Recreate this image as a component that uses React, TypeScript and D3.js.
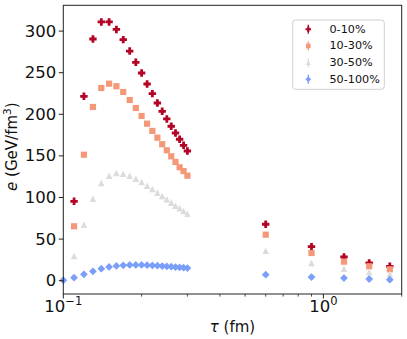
import { useEffect, useRef } from 'react';
import * as d3 from 'd3';

// proper time (fm) sampled by the hydro run, early grid + late grid
const tau = [0.10, 0.11, 0.12, 0.13, 0.14, 0.15, 0.16, 0.17, 0.18, 0.19, 0.20,
  0.21, 0.22, 0.23, 0.24, 0.25, 0.26, 0.27, 0.28, 0.29, 0.30,
  0.6, 0.9, 1.2, 1.5, 1.8];

const central = [null, 95.4, 221.6, 290.5, 311, 311, 302, 289.7, 276, 262.5, 249.6,
  236.4, 224.8, 213.6, 203.6, 194.4, 185.6, 177.5, 170, 162.7, 155.9,
  67.8, 40.9, 28.5, 21.3, 17.3];
const midCentral = [null, 65.4, 151.4, 208.8, 231.6, 236.8, 233.7, 226.8, 217.2, 207.6, 198,
  188.7, 180, 171.9, 164, 156.7, 149.5, 142.7, 136.3, 131.8, 126.2,
  55.3, 33.3, 22.8, 17.3, 13.7];
const midPeripheral = [null, 29.7, 67.3, 98.6, 117.4, 126.2, 129.4, 128.6, 126.2, 122.6, 118.6,
  114.2, 110.2, 105.8, 101.8, 97.8, 93.8, 90.1, 87, 83.8, 80.5,
  36, 21.3, 14.4, 10.5, 8];
const peripheral = [0.5, 3.6, 7.7, 11.3, 14.4, 16.5, 17.7, 18.5, 18.9, 18.9, 18.9,
  18.7, 18.4, 18, 17.6, 17.2, 16.8, 16.4, 16, 15.6, 15.2,
  7.2, 4.4, 3.2, 2, 1.2];

const labels = ['0-10%', '10-30%', '30-50%', '50-100%'];
const yTicks = [0, 50, 100, 150, 200, 250, 300];
const xMajor = [0.1, 1];
const xMinor = [0.2, 0.3, 0.4, 0.5, 0.6, 0.7, 0.8, 0.9, 2];

const W = 407, H = 339;
const m = { left: 63.3, right: 401.7, top: 5.3, bottom: 294 };
const font = 'DejaVu Sans, sans-serif';

// marker paths centred on 0,0
const plusPath = (s: number) => {
  const a = s / 2, t = s * 0.19;
  return `M${-t},${-a}H${t}V${-t}H${a}V${t}H${t}V${a}H${-t}V${t}H${-a}V${-t}H${-t}Z`;
};
const squarePath = (s: number) => `M${-s / 2},${-s / 2}h${s}v${s}h${-s}Z`;
const triPath = (s: number) => `M0,${-s / 2}L${s / 2},${s / 2}L${-s / 2},${s / 2}Z`;
const diamondPath = (s: number) => `M0,${-s / 2}L${s / 2},0L0,${s / 2}L${-s / 2},0Z`;

const series = [
  { name: labels[0], values: central, color: '#b40426', shape: plusPath, size: 7.4 },
  { name: labels[1], values: midCentral, color: '#f4987a', shape: squarePath, size: 6.2 },
  { name: labels[2], values: midPeripheral, color: '#dddcdc', shape: triPath, size: 6.6 },
  { name: labels[3], values: peripheral, color: '#7b9ff9', shape: diamondPath, size: 7.8 },
];

export default function App() {
  const ref = useRef<SVGSVGElement>(null);

  useEffect(() => {
    const svg = d3.select(ref.current);
    svg.selectAll('*').remove();

    const x = d3.scaleLog().domain([0.1, 2.0]).range([m.left, m.right]);
    const y = d3.scaleLinear().domain([-16, 331]).range([m.bottom, m.top]);

    // points
    series.forEach(s => {
      const pts = tau.map((t, i) => ({ t, v: s.values[i] })).filter(d => d.v != null);
      svg.append('g').selectAll('path').data(pts).enter().append('path')
        .attr('d', s.shape(s.size))
        .attr('transform', d => `translate(${x(d.t)},${y(d.v as number)})`)
        .attr('fill', s.color);
    });

    // frame
    svg.append('rect')
      .attr('x', m.left).attr('y', m.top)
      .attr('width', m.right - m.left).attr('height', m.bottom - m.top)
      .attr('fill', 'none').attr('stroke', '#222').attr('stroke-width', 1);

    // y axis
    const gy = svg.append('g');
    yTicks.forEach(v => {
      gy.append('line').attr('x1', m.left - 4.5).attr('x2', m.left)
        .attr('y1', y(v)).attr('y2', y(v)).attr('stroke', '#222');
      gy.append('text').attr('x', m.left - 7).attr('y', y(v))
        .attr('text-anchor', 'end').attr('dominant-baseline', 'central')
        .attr('font-family', font).attr('font-size', 16.5).attr('fill', '#111')
        .text(v);
    });

    // x axis (log)
    const gx = svg.append('g');
    xMinor.forEach(v => {
      gx.append('line').attr('x1', x(v)).attr('x2', x(v))
        .attr('y1', m.bottom).attr('y2', m.bottom + 2.6).attr('stroke', '#222').attr('stroke-width', 0.8);
    });
    xMajor.forEach(v => {
      gx.append('line').attr('x1', x(v)).attr('x2', x(v))
        .attr('y1', m.bottom).attr('y2', m.bottom + 4.5).attr('stroke', '#222');
      const t = gx.append('text').attr('x', x(v)).attr('y', 311.7)
        .attr('text-anchor', 'middle')
        .attr('font-family', font).attr('font-size', 16.5).attr('fill', '#111');
      t.append('tspan').text('10');
      t.append('tspan').attr('dy', -7).attr('font-size', 11.5)
        .text(Math.log10(v) < 0 ? '\u2212' + Math.abs(Math.round(Math.log10(v))) : String(Math.round(Math.log10(v))));
    });

    // axis labels
    const xl = svg.append('text').attr('x', (m.left + m.right) / 2).attr('y', 331.5)
      .attr('text-anchor', 'middle').attr('font-family', font).attr('font-size', 15).attr('fill', '#111');
    xl.append('tspan').attr('font-style', 'italic').text('\u03c4');
    xl.append('tspan').text(' (fm)');

    const yl = svg.append('text').attr('transform', `translate(16.5,${(m.top + m.bottom) / 2 - 3}) rotate(-90)`)
      .attr('text-anchor', 'middle').attr('font-family', font).attr('font-size', 15).attr('fill', '#111');
    yl.append('tspan').attr('font-style', 'italic').text('e');
    yl.append('tspan').text(' (GeV/fm');
    yl.append('tspan').attr('dy', -6).attr('font-size', 10.5).text('3');
    yl.append('tspan').attr('dy', 6).text(')');

    // legend
    const lg = svg.append('g');
    lg.append('rect').attr('x', 292.7).attr('y', 20).attr('width', 91.6).attr('height', 69.3)
      .attr('rx', 3).attr('fill', 'white').attr('fill-opacity', 0.8)
      .attr('stroke', '#d0d0d0').attr('stroke-width', 1);
    const rowY = d3.scaleLinear().domain([0, 3]).range([29.3, 79.3]);
    series.forEach((s, i) => {
      const yy = rowY(i);
      lg.append('line').attr('x1', 308.3).attr('x2', 308.3).attr('y1', yy - 4.5).attr('y2', yy + 4.5)
        .attr('stroke', s.color).attr('stroke-width', 1.3);
      lg.append('path').attr('d', s.shape(s.size * 0.75)).attr('transform', `translate(308.3,${yy})`).attr('fill', s.color);
      lg.append('text').attr('x', 329.5).attr('y', yy).attr('dominant-baseline', 'central')
        .attr('font-family', font).attr('font-size', 11.2).attr('fill', '#111').text(s.name);
    });
  }, []);

  return <svg ref={ref} width={W} height={H} style={{ position: 'fixed', left: 0, top: 0, background: 'white' }} />;
}
